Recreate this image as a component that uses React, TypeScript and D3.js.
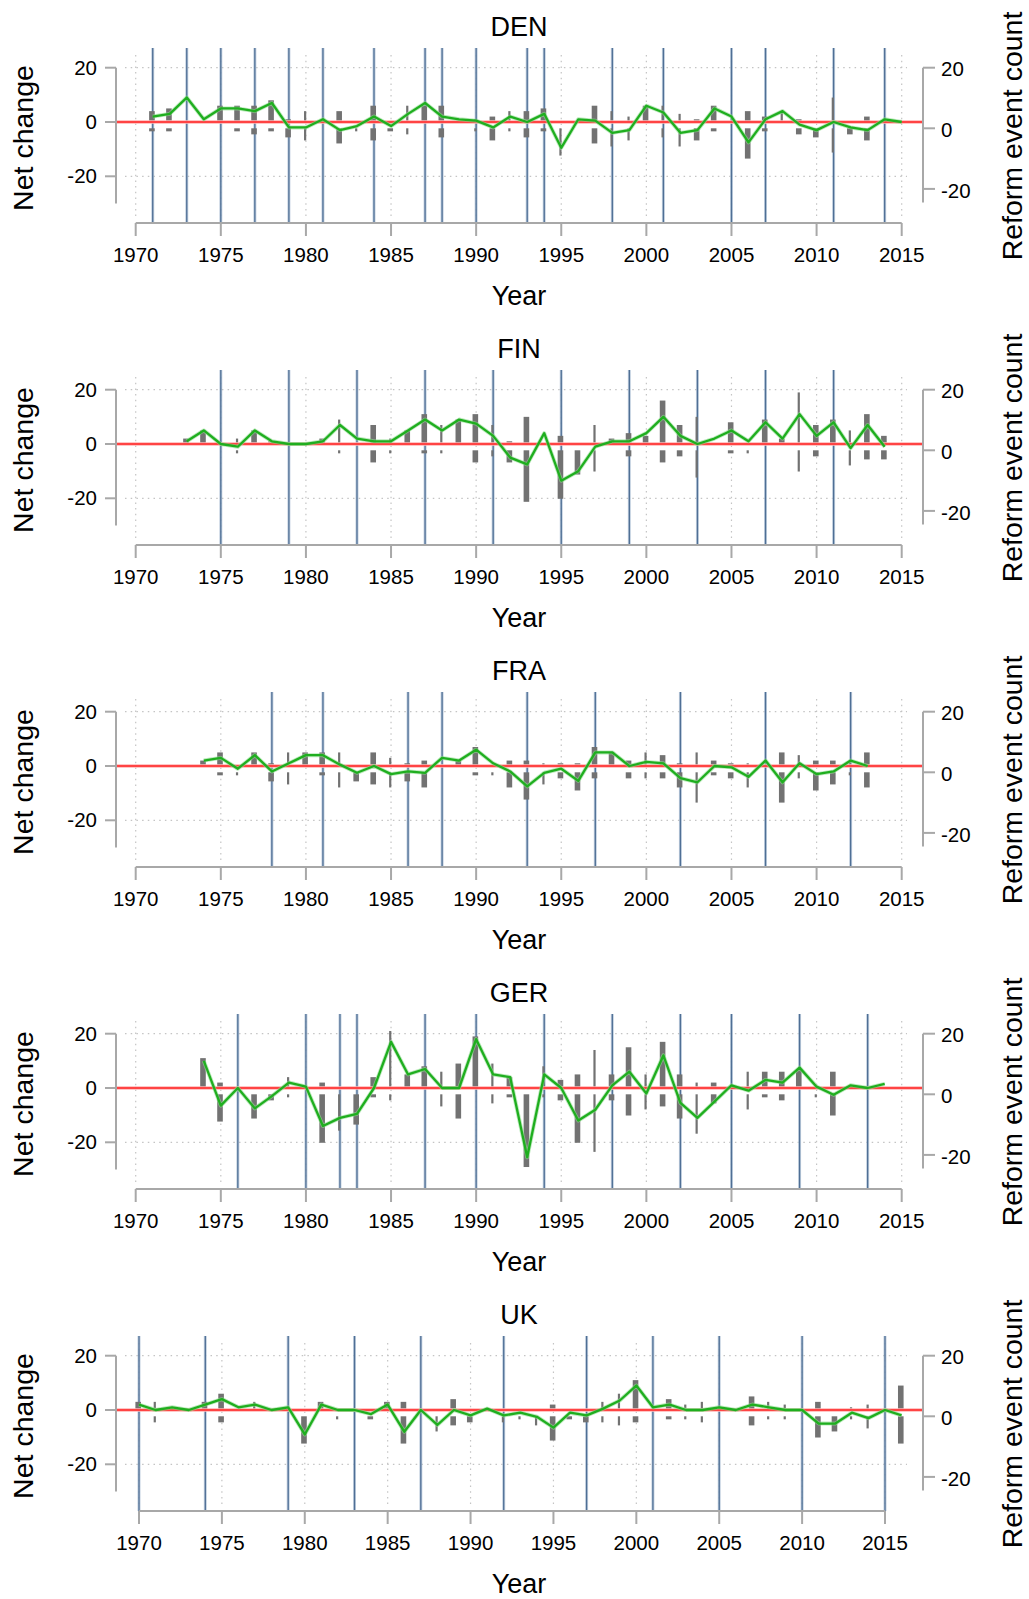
import React from "react";
import * as d3 from "d3";

// net change (green line), expansions (bars up), cuts (bars down), by year
const denStart = 1971;
const denNet = [2, 3, 9, 1, 5, 5, 4, 7, -2, -2, 1, -3, -1.5, 2, -1.5, 3, 7, 2, 1, 0.5, -2, 2, 0, 3, -9.5, 1, 0.5, -4, -3, 6, 3.5, -4, -3, 5, 2, -7.5, 1, 4, -1, -3, 0, -2, -3, 1, 0];
const denPos = [4, 5, 0, 0, 6, 6, 6, 8, 1, 4, 0, 4, 0, 6, 0, 6, 6, 6, 0, 1, 2, 4, 4, 5, 0, 0, 6, 4, 2, 6, 6, 3, 1, 6, 0, 4, 2, 4, 1, 0, 9, 0, 2, 0, 0];
const denNeg = [1, 1, 0, 0, 0, 1, 2, 1, 3, 4, 0, 5, 1, 4, 1, 2, 0, 3, 0, 1, 4, 1, 3, 1, 9, 0, 5, 6, 4, 0, 3, 6, 4, 1, 0, 10, 1, 0, 2, 3, 8, 2, 4, 0, 0];
const denThin = [1980, 1983, 1986, 1990, 1992, 1995, 1998, 1999, 2001, 2002, 2008, 2011];
const denElections = [1971, 1973, 1975, 1977, 1979, 1981, 1984, 1987, 1988, 1990, 1993, 1994, 1998, 2001, 2005, 2007, 2011, 2014];

const finStart = 1973;
const finNet = [1, 5, 0, -1, 5, 1, 0, 0, 1, 7, 2, 1, 1, 5, 9, 5, 9, 7.5, 3, -5, -7.5, 4, -13.5, -10, -1, 1, 1, 4, 10, 3, 0, 2, 5, 1, 8, 2, 11, 3, 8, -1.5, 7, -1];
const finPos = [2, 5, 0, 2, 5, 1, 0, 0, 2, 9, 0, 7, 2, 5, 11, 7, 9, 11, 7, 1, 10, 0, 3, 0, 7, 2, 4, 3, 16, 7, 10, 0, 8, 0, 9, 2, 19, 7, 9, 5, 11, 3];
const finNeg = [0, 0, 0, 1, 0, 0, 0, 0, 0, 1, 0, 4, 1, 0, 1, 1, 0, 4, 2, 4, 17, 0, 16, 8, 7, 0, 2, 0, 4, 2, 9, 0, 1, 1, 0, 0, 7, 2, 0, 5, 3, 3];
const finThin = [1976, 1982, 1985, 1988, 1991, 1997, 2003, 2006, 2009, 2012];
const finElections = [1975, 1979, 1983, 1987, 1991, 1995, 1999, 2003, 2007, 2011];

const fraStart = 1974;
const fraNet = [2, 3, -1, 4, -2, 1, 4, 4, 0.5, -2.5, 0, -3, -2, -2.5, 3, 2, 6, 1, -2, -7.5, -2.5, -1, -5.5, 5, 5, 0, 1.5, 1, -4.5, -6, 0, -0.5, -4, 2, -6, 1, -3, -2, 2, 0];
const fraPos = [2, 5, 0, 5, 1, 5, 5, 5, 5, 0, 5, 3, 1, 2, 0, 2, 7, 0, 2, 2, 1, 1, 1, 7, 5, 2, 5, 4, 1, 5, 2, 1, 1, 0, 5, 4, 2, 2, 2, 5];
const fraNeg = [0, 1, 1, 0, 3, 4, 0, 1, 5, 3, 4, 5, 3, 5, 0, 0, 1, 1, 5, 9, 4, 2, 6, 2, 0, 2, 2, 2, 5, 10, 1, 2, 5, 0, 10, 2, 6, 4, 1, 5];
const fraThin = [1976, 1979, 1982, 1985, 1991, 1994, 2000, 2003, 2006, 2009, 2012];
const fraElections = [1978, 1981, 1986, 1988, 1993, 1997, 2002, 2007, 2012];

const gerStart = 1974;
const gerNet = [10, -6.5, 0, -7.5, -3, 2, 0.5, -14, -11, -9.5, 0, 17, 5, 7, 0, 0, 18, 5, 4, -25.5, 5, 0, -12, -8, 1, 6, -2, 12, -5.5, -11, -5, 1, -1, 3, 2, 7.5, 0.5, -2.5, 1, 0, 1.5];
const gerPos = [11, 2, 0, 0, 0, 4, 0, 2, 0, 0, 4, 21, 5, 8, 6, 9, 19, 9, 4, 0, 8, 3, 5, 14, 5, 15, 5, 17, 5, 2, 2, 0, 6, 6, 6, 7, 0, 6, 0, 0, 0];
const gerNeg = [0, 9, 0, 8, 2, 1, 0, 16, 12, 10, 1, 2, 0, 0, 4, 8, 0, 3, 1, 24, 1, 2, 16, 19, 2, 7, 5, 4, 8, 13, 3, 0, 5, 1, 2, 0, 1, 7, 0, 0, 0];
const gerThin = [1979, 1982, 1985, 1988, 1991, 1994, 1997, 2000, 2003, 2006, 2010];
const gerElections = [1976, 1980, 1982, 1983, 1987, 1990, 1994, 1998, 2002, 2005, 2009, 2013];

const ukStart = 1970;
const ukNet = [2, 0, 1, 0, 2, 4, 1, 2, 0, 1, -9, 2, 0, 0, -1.5, 2, -8, 0, -5.5, 0, -2, 0.5, -2, -1, -2.5, -6.5, -1, -2, 0.5, 3.5, 9, 1, 2, 0, 0, 1, 0, 2, 1, 0, 0, -5, -5, -1, -3, 0, -2];
const ukPos = [3, 3, 0, 0, 3, 6, 0, 3, 0, 0, 0, 3, 0, 0, 0, 3, 3, 0, 0, 4, 0, 0, 0, 0, 0, 2, 0, 0, 3, 6, 11, 0, 4, 2, 3, 0, 0, 5, 3, 2, 0, 3, 0, 1, 2, 0, 9];
const ukNeg = [0, 2, 0, 0, 0, 2, 0, 0, 0, 0, 9, 0, 1, 0, 1, 0, 9, 0, 5, 3, 2, 0, 2, 1, 3, 8, 1, 2, 2, 3, 2, 0, 1, 1, 2, 0, 0, 3, 1, 1, 0, 7, 5, 1, 4, 0, 9];
const ukThin = [1971, 1977, 1982, 1988, 1992, 1993, 1994, 1998, 1999, 2003, 2004, 2008, 2009, 2013, 2014];
const ukElections = [1970, 1974, 1979, 1983, 1987, 1992, 1997, 2001, 2005, 2010, 2015];

const yearTicks = [1970, 1975, 1980, 1985, 1990, 1995, 2000, 2005, 2010, 2015];
const leftTicks = [20, 0, -20];
const rightTicks = [20, 0, -20];

const panels = [
  { name: "DEN", start: denStart, net: denNet, pos: denPos, neg: denNeg, thin: denThin, elections: denElections, xr: [135.7, 901.7] },
  { name: "FIN", start: finStart, net: finNet, pos: finPos, neg: finNeg, thin: finThin, elections: finElections, xr: [135.7, 901.7] },
  { name: "FRA", start: fraStart, net: fraNet, pos: fraPos, neg: fraNeg, thin: fraThin, elections: fraElections, xr: [135.7, 901.7] },
  { name: "GER", start: gerStart, net: gerNet, pos: gerPos, neg: gerNeg, thin: gerThin, elections: gerElections, xr: [135.7, 901.7] },
  { name: "UK", start: ukStart, net: ukNet, pos: ukPos, neg: ukNeg, thin: ukThin, elections: ukElections, xr: [139, 885] },
];

const FONT = "'Liberation Sans', Arial, Helvetica, sans-serif";
const AXIS = "#a8a8a8";
const GRID = "#c4c4c4";

function Panel({ p, top }: { p: any; top: number }) {
  const x = d3.scaleLinear().domain([1970, 2015]).range(p.xr);
  const yL = d3.scaleLinear().domain([0, 20]).range([122, 67.7]);
  const yR = d3.scaleLinear().domain([0, 20]).range([128.3, 67.7]);
  const years = p.net.map((_: number, i: number) => p.start + i);
  const line = d3
    .line<number>()
    .x((_, i) => x(p.start + i))
    .y(d => yL(d));

  return (
    <g transform={`translate(0,${top})`} fontFamily={FONT}>
      <text x={519} y={36} fontSize={27} textAnchor="middle">{p.name}</text>

      {/* dotted grid */}
      {yearTicks.map(t => (
        <line key={"vg" + t} x1={x(t)} x2={x(t)} y1={55} y2={217} stroke={GRID} strokeWidth={1.2} strokeDasharray="1.5 4.2" />
      ))}
      {[20, -20].map(t => (
        <line key={"hg" + t} x1={125} x2={907} y1={yL(t)} y2={yL(t)} stroke={GRID} strokeWidth={1.2} strokeDasharray="1.5 4.2" />
      ))}

      {/* election lines */}
      {p.elections.map((e: number) => (
        <g key={"el" + e}>
          <line x1={x(e)} x2={x(e)} y1={48} y2={223} stroke="#a9bdd3" strokeWidth={3} opacity={0.7} />
          <line x1={x(e)} x2={x(e)} y1={48} y2={223} stroke="#4f6f95" strokeWidth={1.3} />
        </g>
      ))}

      {/* bars */}
      {years.map((yr: number, i: number) => {
        const w = p.thin.includes(yr) ? 2.2 : 5.6;
        const cx = x(yr) - 0.8;
        return (
          <g key={"b" + yr} fill="#727272">
            {p.pos[i] > 0 && (
              <rect x={cx - w / 2} y={yL(p.pos[i])} width={w} height={yL(0) - yL(p.pos[i])} />
            )}
            {p.neg[i] > 0 && (
              <rect x={cx - w / 2} y={yR(0)} width={w} height={yR(-p.neg[i]) - yR(0)} />
            )}
          </g>
        );
      })}

      {/* zero line */}
      <line x1={116} x2={923} y1={yL(0)} y2={yL(0)} stroke="#ffb3b3" strokeWidth={3.5} />
      <line x1={116} x2={923} y1={yL(0)} y2={yL(0)} stroke="#ff1f1f" strokeWidth={1.6} />

      {/* net change */}
      <path d={line(p.net) || ""} fill="none" stroke="#8fdc8f" strokeWidth={4} strokeLinejoin="round" opacity={0.6} />
      <path d={line(p.net) || ""} fill="none" stroke="#1fae1f" strokeWidth={2.3} strokeLinejoin="round" />

      {/* left axis */}
      <line x1={116} x2={116} y1={yL(20)} y2={yL(-30)} stroke={AXIS} strokeWidth={2} />
      {leftTicks.map(t => (
        <g key={"lt" + t}>
          <line x1={105} x2={116} y1={yL(t)} y2={yL(t)} stroke={AXIS} strokeWidth={2} />
          <text x={97} y={yL(t)} dy="0.35em" fontSize={20.5} textAnchor="end">{t}</text>
        </g>
      ))}
      <text transform={`translate(23.5,138) rotate(-90)`} fontSize={28.5} textAnchor="middle" dy="0.35em">Net change</text>

      {/* right axis */}
      <line x1={923} x2={923} y1={yR(20)} y2={yR(-24.5)} stroke={AXIS} strokeWidth={2} />
      {rightTicks.map(t => (
        <g key={"rt" + t}>
          <line x1={923} x2={935} y1={yR(t)} y2={yR(t)} stroke={AXIS} strokeWidth={2} />
          <text x={941} y={yR(t) + 1.5} dy="0.35em" fontSize={20.5} textAnchor="start">{t}</text>
        </g>
      ))}
      <text transform={`translate(1012,136) rotate(-90)`} fontSize={28.5} textAnchor="middle" dy="0.35em">Reform event count</text>

      {/* x axis */}
      <line x1={x(1970)} x2={x(2015)} y1={223} y2={223} stroke={AXIS} strokeWidth={2} />
      {yearTicks.map(t => (
        <g key={"xt" + t}>
          <line x1={x(t)} x2={x(t)} y1={223} y2={236} stroke={AXIS} strokeWidth={2} />
          <text x={x(t)} y={254.5} dy="0.35em" fontSize={20.5} textAnchor="middle">{t}</text>
        </g>
      ))}
      <text x={519} y={296} dy="0.35em" fontSize={27} textAnchor="middle">Year</text>
    </g>
  );
}

export default function App() {
  return (
    <svg
      width={1029}
      height={1599}
      style={{ position: "absolute", left: 0, top: 0, background: "#fff" }}
    >
      <rect width={1029} height={1599} fill="#fff" />
      {panels.map((p, i) => (
        <Panel key={p.name} p={p} top={i * 322} />
      ))}
    </svg>
  );
}
